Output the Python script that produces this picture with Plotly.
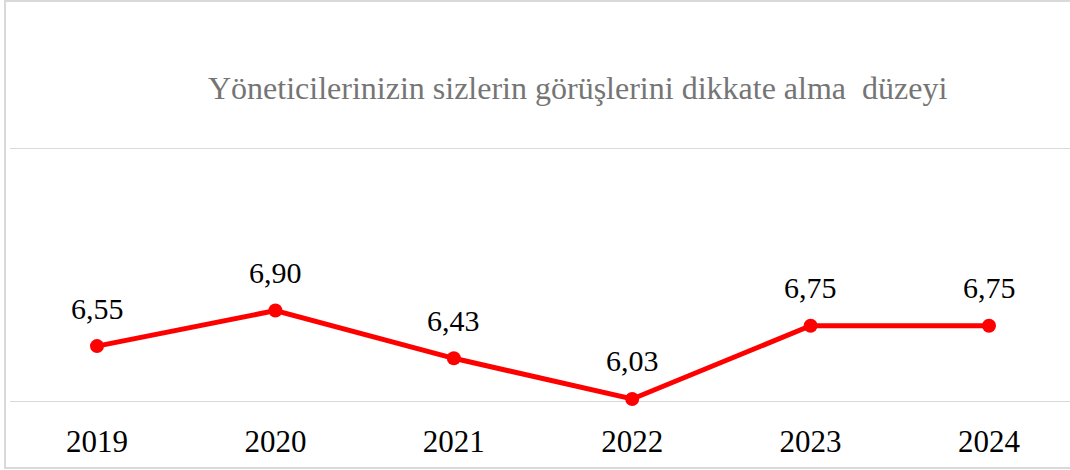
import plotly.graph_objects as go

years = ["2019", "2020", "2021", "2022", "2023", "2024"]
values = [6.55, 6.90, 6.43, 6.03, 6.75, 6.75]
labels = ["6,55", "6,90", "6,43", "6,03", "6,75", "6,75"]
title_text = "Yöneticilerinizin sizlerin görüşlerini dikkate alma  düzeyi"
grid_values = [6.0, 8.5]

SERIF = "Liberation Serif, Times New Roman, Tinos, DejaVu Serif, serif"

W, H = 1070, 470
ml, mr, mt, mb = 10, 0, 148, 68
pw = W - ml - mr
ph = H - mt - mb

def px(x):
    return (x - ml) / pw

def py(y):
    return (H - mb - y) / ph

fig = go.Figure()
fig.add_trace(go.Scatter(
    x=years, y=values, mode="lines+markers",
    line=dict(color="#FF0000", width=5),
    marker=dict(color="#FF0000", size=14),
    cliponaxis=False, hoverinfo="skip",
))

shapes = [dict(
    type="rect", xref="paper", yref="paper",
    x0=px(5), x1=px(1090), y0=py(468), y1=py(1),
    line=dict(color="#d9d9d9", width=2), fillcolor="rgba(0,0,0,0)",
    layer="below",
)]
for g in grid_values:
    shapes.append(dict(type="line", xref="paper", yref="y", x0=0, x1=1, y0=g, y1=g,
                       line=dict(color="#d9d9d9", width=2), layer="below"))

annotations = [dict(
    text=title_text, xref="paper", yref="paper",
    x=px(577), y=py(88), xanchor="center", yanchor="middle",
    showarrow=False,
    font=dict(family=SERIF, size=32, color="#757575"),
)]
for i, (yv, lab) in enumerate(zip(values, labels)):
    annotations.append(dict(
        text=lab, x=i, y=yv, xref="x", yref="y", showarrow=False,
        xanchor="center", yanchor="middle", yshift=38,
        font=dict(family=SERIF, size=30, color="#000000"),
    ))

fig.update_layout(
    width=W, height=H,
    margin=dict(l=ml, r=mr, t=mt, b=mb),
    paper_bgcolor="white", plot_bgcolor="white",
    showlegend=False,
    font=dict(family=SERIF, color="#000000"),
    xaxis=dict(
        type="category", range=[-0.4877, 5.454],
        showgrid=False, zeroline=False, showline=False,
        ticks="", tickfont=dict(size=31, color="#000000", family=SERIF),
        ticklabelstandoff=18,
    ),
    yaxis=dict(
        range=[6, 8.5], showticklabels=False,
        showgrid=False, zeroline=False, showline=False,
    ),
    shapes=shapes,
    annotations=annotations,
)

fig.write_html("out.html", config={"displayModeBar": False},
               post_script="document.body.style.margin='0';")
